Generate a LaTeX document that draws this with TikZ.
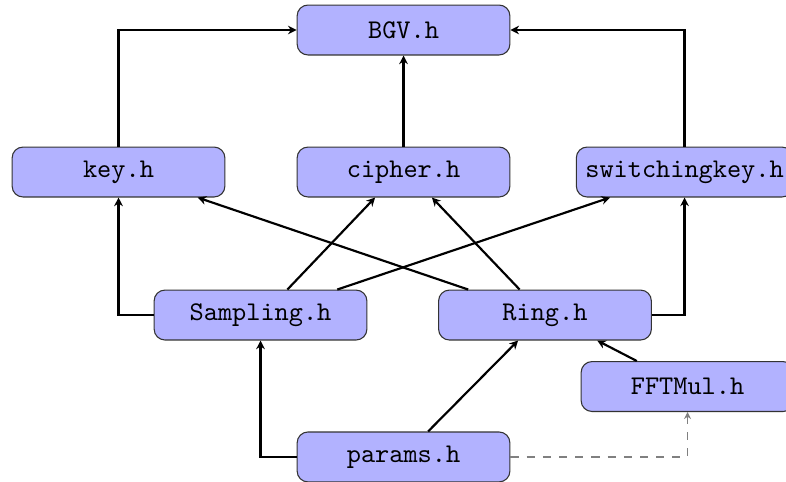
\documentclass[tikz,border=0pt]{standalone}
\usetikzlibrary{arrows.meta}
\begin{document}
\begin{tikzpicture}[
	hfile/.style={draw=black!80, fill=blue!30, rounded corners=4pt, minimum width=2.77cm, minimum height=0.65cm, font=\ttfamily},
	dep/.style={thick, -{Stealth[length=3.2pt, width=3.2pt]}},
	optdep/.style={semithick, gray, dashed, -{Stealth[length=2.6pt, width=2.6pt]}}]
			\useasboundingbox (0,0) rectangle (10.234,6.263);
			% Draw header files
			\node[hfile] (BGV) at (5.254,5.872) {BGV.h};
			\node[hfile] (key) at (1.543,4.023) {key.h};
			\node[hfile] (cipher) at (5.254,4.023) {cipher.h};
			\node[hfile] (switchingkey) at (8.913,4.023) {switchingkey.h};
			\node[hfile] (Sampling) at (3.392,2.161) {Sampling.h};
			\node[hfile] (Ring) at (7.096,2.161) {Ring.h};
			\node[hfile] (FFTMul) at (8.952,1.230) {FFTMul.h};
			\node[hfile] (params) at (5.254,0.313) {params.h};
			% Draw includes into BGV.h
			\draw[dep] (key.north) |- (BGV.west);
			\draw[dep] (cipher.north) -- (BGV.south);
			\draw[dep] (switchingkey.north) |- (BGV.east);
			% Draw includes of Sampling.h and Ring.h
			\draw[dep] (Sampling.west) -| (key.south);
			\draw[dep] ([xshift=0.35cm]Sampling.north) -- ([xshift=-0.37cm]cipher.south);
			\draw[dep] ([xshift=1cm]Sampling.north) -- ([xshift=-0.97cm]switchingkey.south);
			\draw[dep] ([xshift=-1cm]Ring.north) -- ([xshift=1.03cm]key.south);
			\draw[dep] ([xshift=-0.33cm]Ring.north) -- ([xshift=0.37cm]cipher.south);
			\draw[dep] (Ring.east) -| (switchingkey.south);
			% Draw includes of FFTMul.h and params.h
			\draw[dep] ([xshift=-0.66cm]FFTMul.north) -- ([xshift=0.68cm]Ring.south);
			\draw[dep] ([xshift=0.32cm]params.north) -- ([xshift=-0.35cm]Ring.south);
			\draw[dep] (params.west) -| (Sampling.south);
			\draw[optdep] (params.east) -| (FFTMul.south);
		\end{tikzpicture}
\end{document}
